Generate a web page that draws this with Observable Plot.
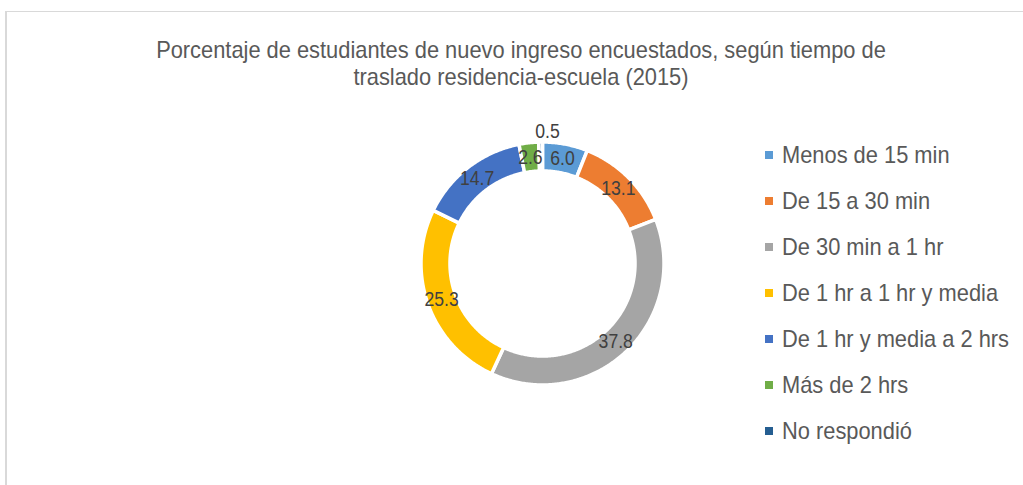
<!DOCTYPE html>
<html>
<head>
<meta charset="utf-8">
<script src="https://cdn.jsdelivr.net/npm/d3@7"></script>
<script src="https://cdn.jsdelivr.net/npm/@observablehq/plot@0.6"></script>
<style>
  html, body { margin: 0; padding: 0; background: #fff; }
  #wrap { position: relative; width: 1023px; height: 485px; overflow: hidden; background: #fff;
    font-family: "Liberation Sans", Arial, sans-serif; }
  #frame { position: absolute; left: 5px; top: 11px; width: 2000px; height: 1000px;
    border-top: 1px solid #d9d9d9; border-left: 2px solid #d9d9d9; }
  #title { position: absolute; left: 0; width: 1042px; top: 36px; text-align: center;
    font-size: 24px; line-height: 27px; color: #595959; transform: scaleX(0.91); transform-origin: 521px 0; }
  #chart { position: absolute; left: 392px; top: 113px; }
  #legend { position: absolute; left: 765px; top: 132px; }
  .item { height: 46px; line-height: 46px; font-size: 24px; color: #595959; white-space: nowrap; display: flex; align-items: center; }
  .sw { width: 8px; height: 8px; margin-right: 9px; display: inline-block; flex: none; }
  .txt { display: inline-block; transform: scaleX(0.91); transform-origin: 0 50%; }
</style>
</head>
<body>
<div id="wrap">
  <div id="frame"></div>
  <div id="title">Porcentaje de estudiantes de nuevo ingreso encuestados, según tiempo de<br>traslado residencia-escuela (2015)</div>
  <div id="chart"></div>
  <div id="legend"></div>
</div>
<script>
const categories = [
  "Menos de 15 min",
  "De 15 a 30 min",
  "De 30 min a 1 hr",
  "De 1 hr a 1 hr y media",
  "De 1 hr y media a 2 hrs",
  "Más de 2 hrs",
  "No respondió"
];
const values = [6.0, 13.1, 37.8, 25.3, 14.7, 2.6, 0.5];
const colors = ["#5B9BD5", "#ED7D31", "#A5A5A5", "#FFC000", "#4472C4", "#70AD47", "#255E91"];

const outerR = 1.0125, innerR = 0.771, midR = 0.892;

const data = categories.map((c, i) => ({cat: c, value: values[i]}));
const arcs = d3.pie().sort(null).value(d => d.value).startAngle(0).endAngle(2 * Math.PI)(data);

// polygon outline of each ring slice (angles derived from values)
const poly = [];
for (const a of arcs) {
  const n = Math.max(2, Math.ceil((a.endAngle - a.startAngle) / 0.01));
  for (let k = 0; k <= n; k++) {
    const t = a.startAngle + (a.endAngle - a.startAngle) * k / n;
    poly.push({cat: a.data.cat, x: outerR * Math.sin(t), y: outerR * Math.cos(t)});
  }
  for (let k = n; k >= 0; k--) {
    const t = a.startAngle + (a.endAngle - a.startAngle) * k / n;
    poly.push({cat: a.data.cat, x: innerR * Math.sin(t), y: innerR * Math.cos(t)});
  }
}

const labels = arcs.map(a => {
  const m = (a.startAngle + a.endAngle) / 2;
  const small = a.data.value < 1;
  const r = small ? outerR + 0.07 : midR;
  return {cat: a.data.cat, small, x: r * Math.sin(m), y: r * Math.cos(m), text: a.data.value.toFixed(1)};
});

const chart = Plot.plot({
  width: 300,
  height: 300,
  margin: 0,
  x: {domain: [-1.25, 1.25], axis: null},
  y: {domain: [-1.25, 1.25], axis: null},
  color: {domain: categories, range: colors},
  style: {fontFamily: '"Liberation Sans", Arial, sans-serif', background: "transparent", overflow: "visible"},
  marks: [
    Plot.line(poly, {x: "x", y: "y", z: "cat", fill: "cat", stroke: "white", strokeWidth: 3.5, curve: "linear-closed"}),
    Plot.text(labels.filter(d => !d.small), {x: "x", y: "y", text: "text", fontSize: 21, fill: "#404040"}),
    Plot.text(labels.filter(d => d.small), {x: "x", y: "y", text: "text", fontSize: 21, fill: "#404040", dx: 7, dy: -2})
  ]
});
// narrow the label glyphs (Arial Narrow look) around each label's own anchor
d3.select(chart).selectAll("text").each(function () {
  const el = d3.select(this);
  const t = el.attr("transform");
  if (t) {
    el.attr("transform", t + " scale(0.84,1)");
  } else {
    const x = +el.attr("x") || 0, y = +el.attr("y") || 0;
    el.attr("x", null).attr("y", null).attr("transform", `translate(${x},${y}) scale(0.84,1)`);
  }
});
document.getElementById("chart").appendChild(chart);

const legend = document.getElementById("legend");
categories.forEach((c, i) => {
  const row = document.createElement("div");
  row.className = "item";
  const sw = document.createElement("span");
  sw.className = "sw";
  sw.style.background = colors[i];
  row.appendChild(sw);
  const tx = document.createElement("span");
  tx.className = "txt";
  tx.textContent = c;
  row.appendChild(tx);
  legend.appendChild(row);
});
</script>
</body>
</html>
